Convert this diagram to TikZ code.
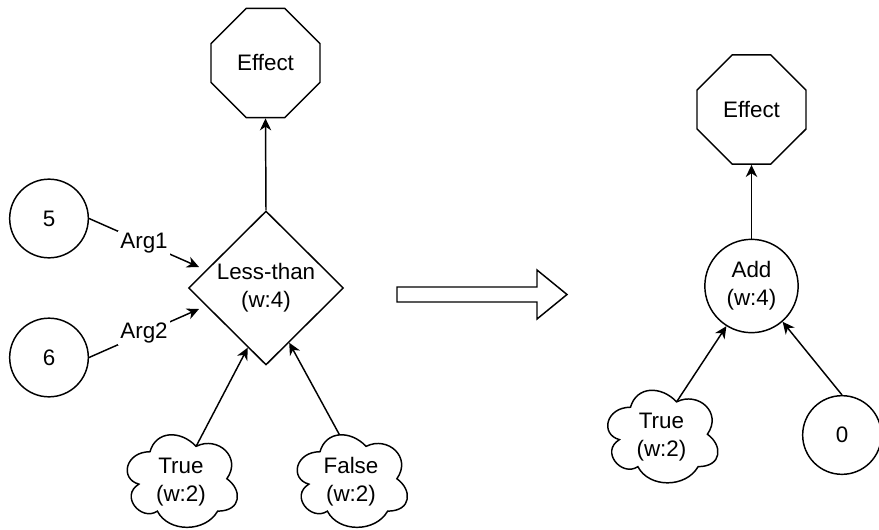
\documentclass[tikz,border=0pt]{standalone}
\usepackage{fontspec}
\setmainfont{Liberation Sans}
\usetikzlibrary{shapes.geometric,shapes.misc,arrows.meta}

% Cloud outline drawn inside the box of a (plain) node: name, width, height (px)
\newcommand\cloudoutline[3]{%
  \draw[line, shift={(#1.north west)}, shift={(0,-3)}]
    (0.25*#2,0.25*#3)
    .. controls (0.05*#2,0.25*#3) and (0,0.5*#3) .. (0.16*#2,0.55*#3)
    .. controls (0,0.66*#3) and (0.18*#2,0.9*#3) .. (0.31*#2,0.8*#3)
    .. controls (0.4*#2,#3) and (0.7*#2,#3) .. (0.8*#2,0.8*#3)
    .. controls (#2,0.8*#3) and (#2,0.6*#3) .. (0.875*#2,0.5*#3)
    .. controls (#2,0.3*#3) and (0.8*#2,0.1*#3) .. (0.625*#2,0.2*#3)
    .. controls (0.5*#2,0.05*#3) and (0.3*#2,0.05*#3) .. cycle;
  \coordinate (#1-dip) at ([shift={(#1.north west)}, shift={(0,-3)}]0.625*#2,0.2*#3);
  \coordinate (#1-top) at ([shift={(#1.north west)}, shift={(0,-3)}]0.409*#2,0.094*#3);
}

\begin{document}
\begin{tikzpicture}[x=0.75pt,y=-0.75pt,
  every node/.style={font=\fontsize{16.8}{21}\selectfont, align=center},
  line/.style={line width=1.1pt},
  link/.style={line, -{Stealth[length=9pt,width=8.5pt,inset=2.8pt]}},
  octa/.style={draw, line, chamfered rectangle,
    chamfered rectangle xsep=20.25pt, chamfered rectangle ysep=20.25pt,
    minimum width=81.75pt, minimum height=82pt, inner sep=0pt},
  valnode/.style={draw, line, circle, minimum size=59pt, inner sep=0pt},
  opcircle/.style={draw, line, circle, minimum size=70pt, inner sep=0pt},
  opdiamond/.style={draw, line, diamond, shape aspect=1,
    minimum width=116.25pt, minimum height=115.5pt, inner sep=0pt},
  cloudbox/.style={rectangle, minimum width=92.25pt, minimum height=81pt, inner sep=0pt},
  arglabel/.style={fill=white, inner sep=1.5pt}
]
\useasboundingbox (0,0) rectangle (879,529);

% ---- left graph ----
\node[octa] (e1) at (265.5,63) {Effect};
\node[opdiamond] (lt) at (266,288) {Less-than\\(w:4)};
\node[valnode] (c5) at (49,218.5) {5};
\node[valnode] (c6) at (49,357.5) {6};
\node[cloudbox] (t1) at (181,482) {True\\(w:2)};
\node[cloudbox] (f1) at (351,482) {False\\(w:2)};
\cloudoutline{t1}{123}{108}
\cloudoutline{f1}{123}{108}
\coordinate (a1) at (199,267);
\coordinate (a2) at (199,309);

\draw[link] (lt.north) -- (e1.south);
\draw[link] (c5.east) -- node[arglabel] {Arg1} (a1);
\draw[link] (c6.east) -- node[arglabel] {Arg2} (a2);
\draw[link] (t1-dip) -- (lt.253);
\draw[link] (f1-top) -- (lt.293);

% ---- rewrite arrow ----
\draw[line, line join=miter] (397,287) -- (537,287) -- (537,270) -- (567,294.5)
  -- (537,319) -- (537,302) -- (397,302) -- cycle;

% ---- right graph ----
\node[octa] (e2) at (751.5,109.5) {Effect};
\node[opcircle] (add) at (751.5,286) {Add\\(w:4)};
\node[cloudbox] (t2) at (661.5,437.5) {True\\(w:2)};
\cloudoutline{t2}{123}{108}
\node[valnode] (c0) at (842,435) {0};

\draw[link] (add.north) -- (e2.south);
\draw[link] (t2-dip) -- (add.238);
\draw[link] (c0.north) -- (add.311);
\end{tikzpicture}
\end{document}
